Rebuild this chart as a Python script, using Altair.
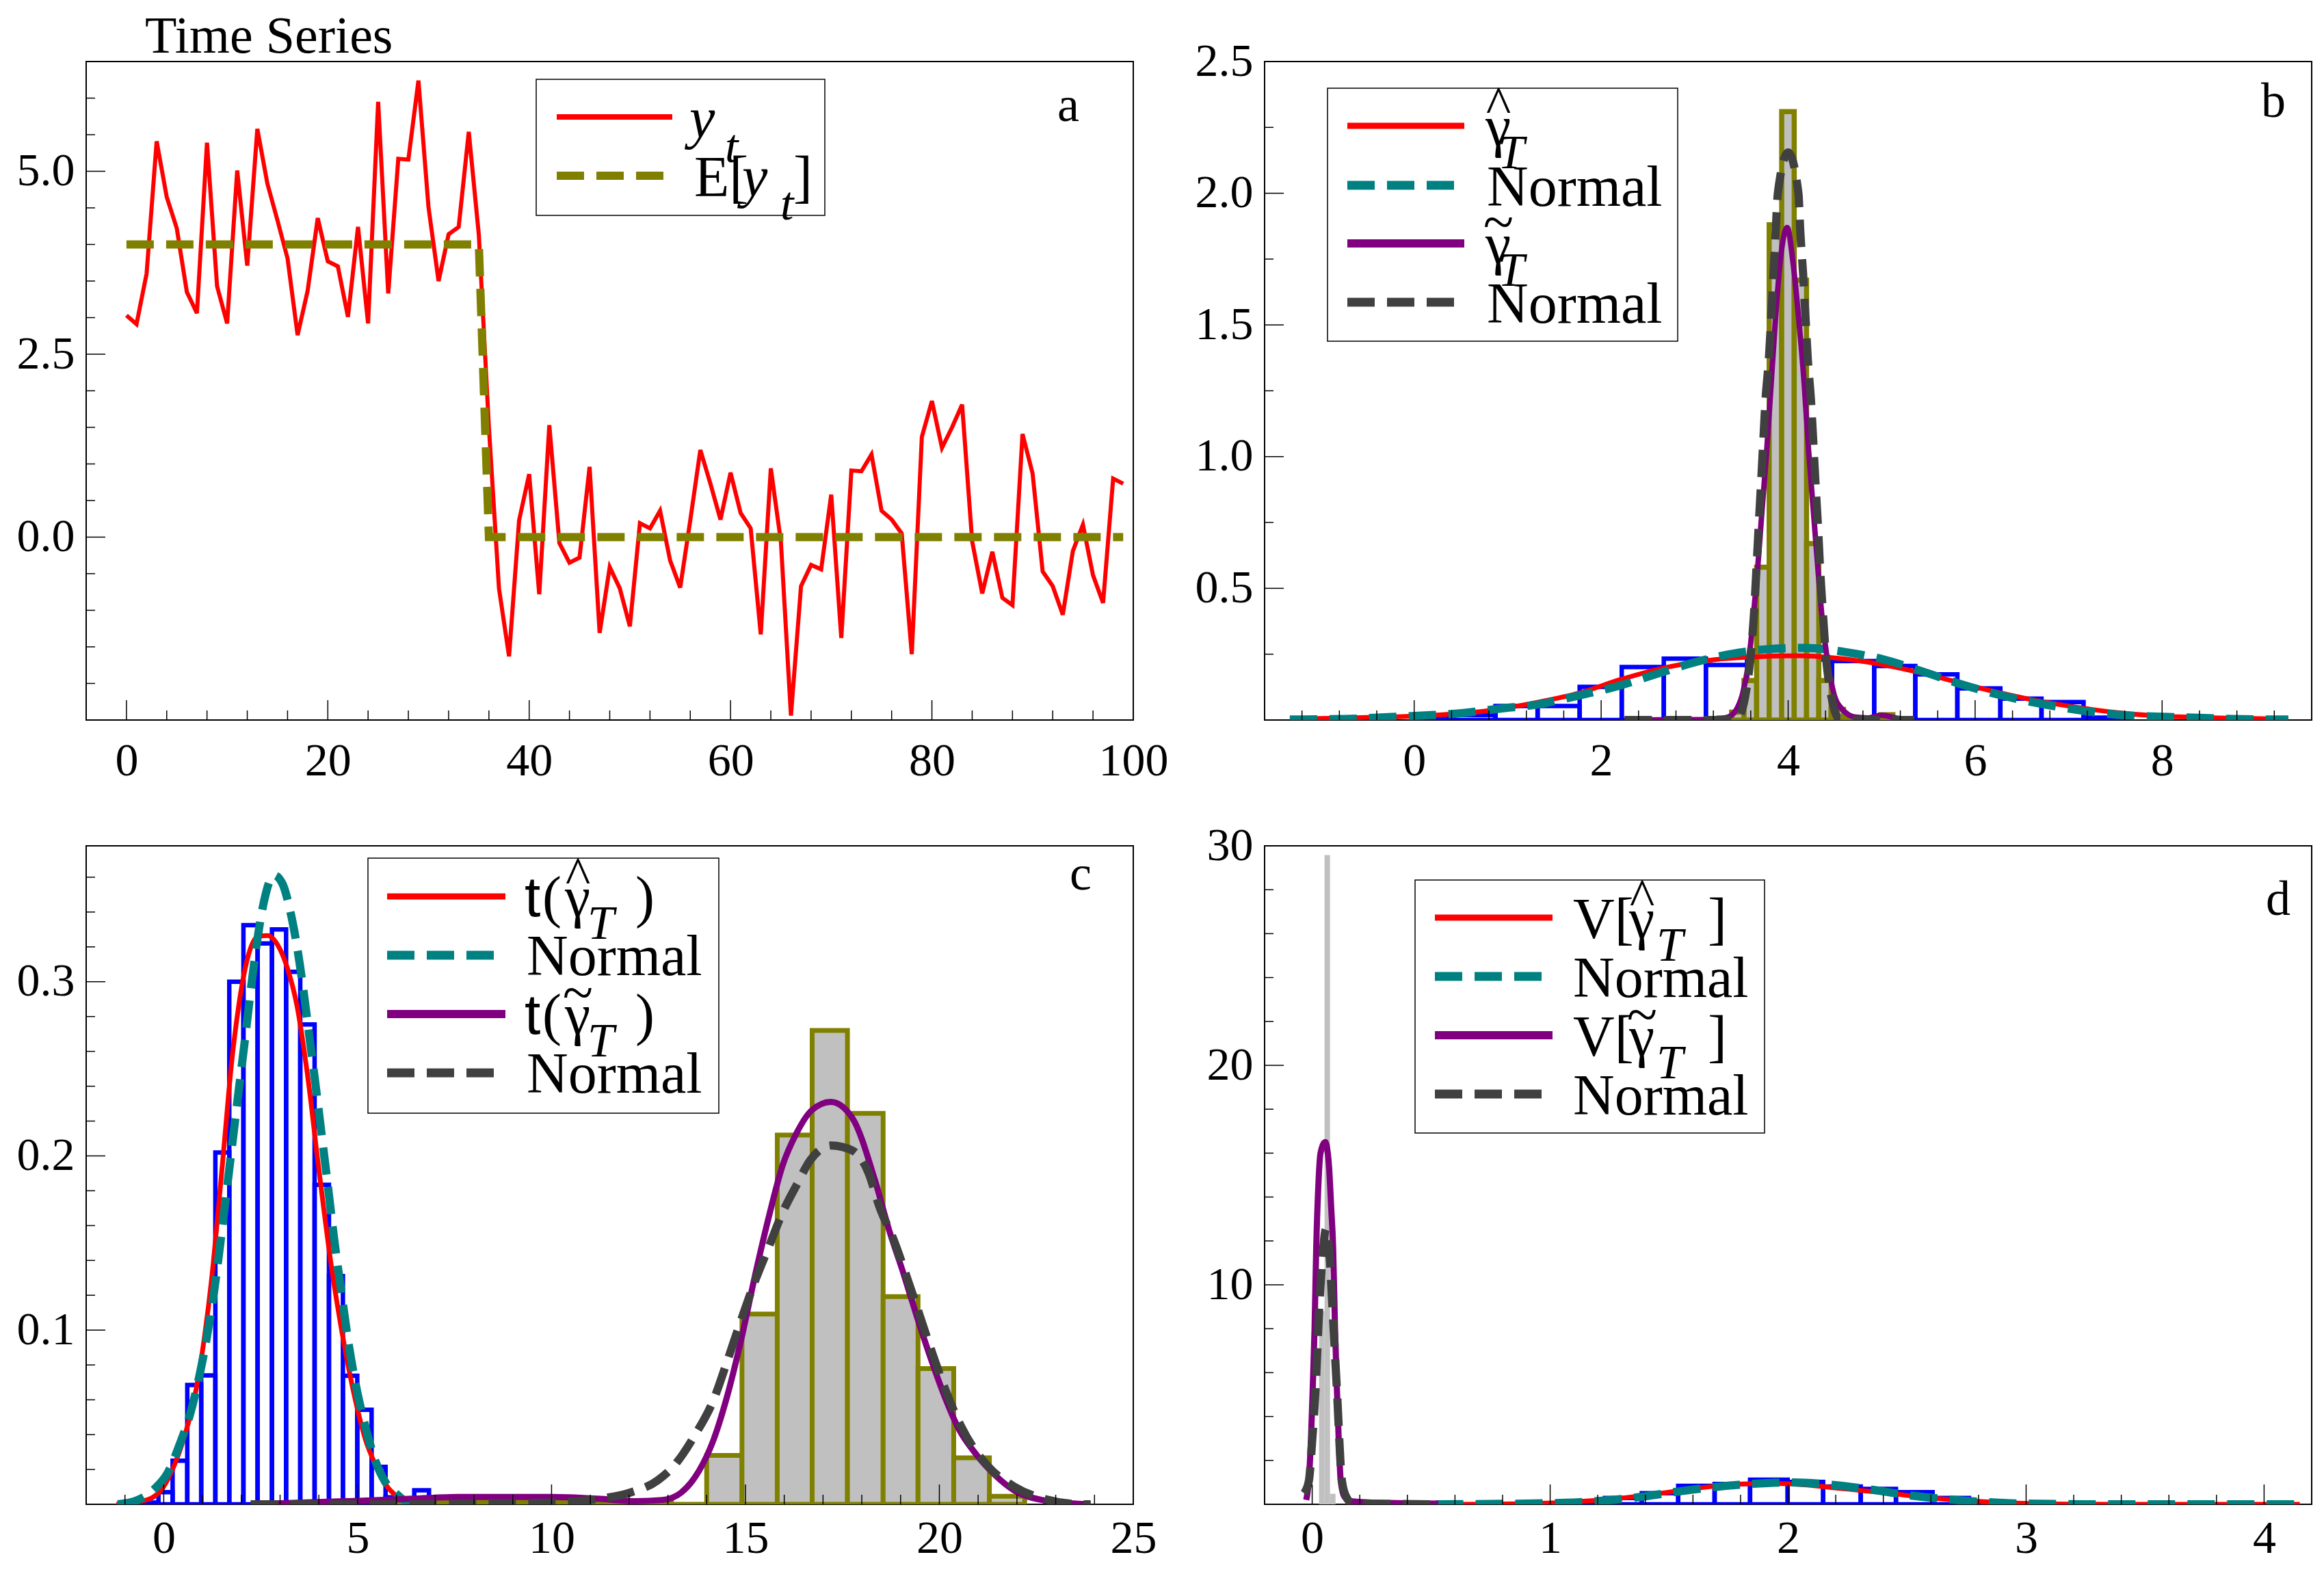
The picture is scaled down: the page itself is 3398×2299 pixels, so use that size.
import altair as alt
import pandas as pd

FONT = "Liberation Serif"
W, H = 1531, 963
TICK_FS = 68
RED, OLIVE, TEAL, PURPLE, DGREY, BLUE, SILVER = "#ff0000", "#808000", "#008080", "#800080", "#404040", "#0000ff", "#c0c0c0"
DASH = [40, 18]

# ---------------- panel a : time series ----------------
ts_t = list(range(100))
ts_y = [3.03, 2.91, 3.6, 5.41, 4.65, 4.22, 3.35, 3.06, 5.39, 3.43,
        2.92, 5.01, 3.71, 5.58, 4.83, 4.33, 3.81, 2.76, 3.37, 4.36,
        3.77, 3.70, 3.01, 4.24, 2.92, 5.95, 3.33, 5.17, 5.16, 6.24,
        4.51, 3.50, 4.14, 4.24, 5.54, 4.13, 1.5, -0.70, -1.63, 0.23,
        0.86, -0.78, 1.53, -0.08, -0.35, -0.28, 0.96, -1.31, -0.41, -0.70,
        -1.22, 0.19, 0.12, 0.36, -0.32, -0.69, 0.23, 1.19, 0.73, 0.24,
        0.88, 0.33, 0.12, -1.33, 0.94, -0.06, -2.44, -0.67, -0.38, -0.44,
        0.58, -1.38, 0.91, 0.90, 1.13, 0.36, 0.24, 0.05, -1.60, 1.37,
        1.86, 1.22, 1.50, 1.81, -0.06, -0.77, -0.20, -0.83, -0.93, 1.41,
        0.87, -0.47, -0.67, -1.06, -0.19, 0.17, -0.52, -0.90, 0.80, 0.73]
ey_t = [0, 35, 36, 99]
ey_v = [4.0, 4.0, 0.0, 0.0]

# ---------------- panel b : gamma estimators ----------------
b_hat_edges = [-0.03, 0.42, 0.87, 1.32, 1.77, 2.22, 2.67, 3.12, 3.56, 4.01, 4.47, 4.92, 5.36, 5.81, 6.27, 6.71, 7.16, 7.61]
b_hat_heights = [0.005, 0.019, 0.053, 0.053, 0.126, 0.201, 0.233, 0.209, 0.225, 0.23, 0.224, 0.205, 0.173, 0.12, 0.081, 0.068, 0.009]
b_tld_edges = [3.263, 3.396, 3.528, 3.663, 3.797, 3.931, 4.065, 4.197, 4.328, 4.460, 4.592, 4.725, 4.857, 4.99, 5.12]
b_tld_heights = [0.008, 0.03, 0.15, 0.58, 1.88, 2.31, 1.67, 0.67, 0.15, 0.04, 0.01, 0.005, 0.005, 0.02]
b_red_x = [-1.33, -0.7, 0.33, 0.76, 1.27, 1.77, 2.21, 2.71, 3.14, 3.58, 4.09, 4.52, 4.95, 5.31, 5.74, 6.17, 6.61, 7.04, 7.47, 7.9, 8.5, 9.35]
b_red_y = [0.004, 0.008, 0.021, 0.034, 0.064, 0.103, 0.154, 0.201, 0.226, 0.239, 0.244, 0.235, 0.214, 0.188, 0.150, 0.111, 0.077, 0.051, 0.030, 0.017, 0.009, 0.004]
b_teal_x = [-1.33, -0.74, -0.35, 0.08, 0.51, 0.91, 1.34, 1.77, 2.17, 2.56, 2.99, 3.35, 3.78, 4.18, 4.61, 5.01, 5.44, 5.84, 6.23, 6.67, 7.1, 7.5, 7.93, 8.33, 8.76, 9.19, 9.35]
b_teal_y = [0.002, 0.004, 0.010, 0.017, 0.026, 0.043, 0.06, 0.094, 0.128, 0.171, 0.218, 0.248, 0.269, 0.274, 0.258, 0.231, 0.184, 0.137, 0.098, 0.064, 0.038, 0.021, 0.013, 0.009, 0.004, 0.002, 0.002]
b_pur_x = [2.25, 3.0, 3.21, 3.355, 3.452, 3.513, 3.574, 3.623, 3.672, 3.72, 3.77, 3.818, 3.867, 3.916, 3.99,
           4.05, 4.11, 4.172, 4.22, 4.27, 4.32, 4.367, 4.428, 4.489, 4.574, 4.72, 4.85, 5.0, 5.15, 5.35]
b_pur_y = [0.0, 0.001, 0.003, 0.011, 0.043, 0.10, 0.212, 0.374, 0.567, 0.793, 1.018, 1.275, 1.534, 1.743, 1.87,
           1.743, 1.534, 1.275, 1.018, 0.793, 0.567, 0.374, 0.212, 0.10, 0.043, 0.011, 0.008, 0.018, 0.008, 0.0]
b_gry_x = [2.25, 3.3, 3.45, 3.538, 3.599, 3.635, 3.66, 3.684, 3.709, 3.733, 3.757, 3.794, 3.82, 3.843, 3.867, 3.89, 4.0,
           4.11, 4.13, 4.16, 4.185, 4.21, 4.245, 4.27, 4.294, 4.32, 4.343, 4.372, 4.404, 4.465, 4.55, 4.7, 5.35]
b_gry_y = [0.0, 0.0, 0.004, 0.085, 0.245, 0.405, 0.567, 0.73, 0.89, 1.05, 1.21, 1.372, 1.534, 1.694, 1.855, 2.0, 2.155,
           2.0, 1.855, 1.694, 1.534, 1.372, 1.21, 1.05, 0.89, 0.73, 0.567, 0.405, 0.245, 0.085, 0.004, 0.0, 0.0]

# ---------------- panel c : t statistics ----------------
c_hat_edges = [-0.5, -0.136, 0.229, 0.607, 0.966, 1.331, 1.69, 2.055, 2.42, 2.79, 3.155, 3.52, 3.89, 4.26, 4.62, 4.99, 5.36, 5.72, 6.09, 6.46, 6.84]
c_hat_heights = [0.001, 0.007, 0.025, 0.0685, 0.074, 0.202, 0.300, 0.3325, 0.322, 0.330, 0.3057, 0.2755, 0.1834, 0.131, 0.0738, 0.0543, 0.0215, 0.004, 0.002, 0.008]
c_tld_edges = [5.81, 6.72, 7.63, 8.54, 9.45, 10.36, 11.27, 12.18, 13.09, 14.0, 14.91, 15.82, 16.72, 17.63, 18.55, 19.45, 20.37, 21.29, 22.2]
c_tld_heights = [0.001, 0.0015, 0.0015, 0.0015, 0.0015, 0.0015, 0.0015, 0.001, 0.0, 0.0281, 0.1092, 0.212, 0.272, 0.2244, 0.1192, 0.0779, 0.0267, 0.0046]
c_red_x = [-1.22, -0.525, -0.086, 0.23, 0.544, 0.796, 1.048, 1.237, 1.426, 1.583, 1.741, 1.93, 2.15, 2.43, 2.685, 2.94, 3.19,
           3.44, 3.63, 3.79, 3.94, 4.13, 4.32, 4.51, 4.70, 4.95, 5.2, 5.46, 5.71, 5.96, 6.34, 7.0]
c_red_y = [0.0, 0.002, 0.0076, 0.0202, 0.0397, 0.0616, 0.0957, 0.1298, 0.1737, 0.2127, 0.2516, 0.2857, 0.3125, 0.326, 0.3265, 0.321, 0.3077,
           0.2857, 0.259, 0.232, 0.203, 0.169, 0.137, 0.110, 0.086, 0.059, 0.0373, 0.0226, 0.0117, 0.0055, 0.002, 0.001]
c_teal_x = [-1.19, -0.72, -0.21, 0.1, 0.42, 0.67, 0.92, 1.11, 1.30, 1.456, 1.615, 1.772, 1.93, 2.09, 2.245, 2.40, 2.59, 2.84,
            3.06, 3.25, 3.44, 3.6, 3.755, 3.91, 4.07, 4.23, 4.385, 4.575, 4.76, 4.95, 5.2, 5.455, 5.71, 6.02, 6.34, 7.0]
c_teal_y = [0.0, 0.002, 0.0094, 0.018, 0.035, 0.051, 0.0738, 0.0957, 0.1225, 0.1493, 0.1785, 0.2077, 0.237, 0.266, 0.2954, 0.322, 0.3466, 0.3612,
            0.3563, 0.3417, 0.3197, 0.2954, 0.2686, 0.2417, 0.2125, 0.1833, 0.154, 0.1225, 0.0932, 0.0689, 0.0446, 0.025, 0.0129, 0.0056, 0.0007, 0.0]
c_pur_x = [2.9, 5.0, 6.42, 7.61, 10.0, 11.19, 12.14, 12.86, 13.34, 13.81, 14.17, 14.53, 14.88, 15.24, 15.6, 15.96, 16.32, 16.7, 17.2,
           17.75, 18.34, 18.70, 19.06, 19.42, 19.78, 20.13, 20.49, 20.97, 21.44, 21.92, 22.64, 23.59, 23.9]
c_pur_y = [0.0005, 0.002, 0.0032, 0.0042, 0.0042, 0.0032, 0.0018, 0.0025, 0.0067, 0.0195, 0.0366, 0.0622, 0.0936, 0.1306, 0.1648, 0.1947, 0.2132, 0.226, 0.231,
           0.222, 0.186, 0.1577, 0.1335, 0.1078, 0.0836, 0.0622, 0.0437, 0.0281, 0.0167, 0.0081, 0.0025, 0.0003, 0.0]
c_gry_x = [2.24, 6.0, 7.61, 10.0, 11.19, 12.02, 12.74, 13.22, 13.69, 14.17, 14.53, 14.88, 15.24, 15.6, 15.96, 16.32, 16.67, 17.21,
           17.75, 18.17, 18.46, 18.82, 19.18, 19.48, 19.80, 20.13, 20.55, 21.23, 21.92, 22.7, 23.71, 23.9]
c_gry_y = [0.0, 0.0, 0.0003, 0.001, 0.0031, 0.0067, 0.0138, 0.0238, 0.0395, 0.0596, 0.0822, 0.1052, 0.1278, 0.1477, 0.1676, 0.1833, 0.1975, 0.206,
           0.2032, 0.1904, 0.1705, 0.1519, 0.1292, 0.1093, 0.0879, 0.0672, 0.0452, 0.0224, 0.0103, 0.0031, 0.0, 0.0]

# ---------------- panel d : variances ----------------
d_hat_edges = [1.08, 1.23, 1.385, 1.538, 1.691, 1.84, 1.998, 2.147, 2.305, 2.453, 2.607, 2.76, 2.91]
d_hat_heights = [0.05, 0.29, 0.51, 0.84, 0.93, 1.12, 1.02, 0.81, 0.70, 0.55, 0.29, 0.05]
d_tld_edges = [0.029, 0.052, 0.075, 0.098]
d_tld_heights = [8.8, 29.58, 0.48]
d_red_x = [0.52, 0.878, 1.114, 1.28, 1.44, 1.61, 1.77, 1.94, 2.08, 2.22, 2.39, 2.58, 2.76, 2.98, 3.35, 4.15]
d_red_y = [0.0, 0.02, 0.124, 0.26, 0.465, 0.72, 0.91, 0.95, 0.88, 0.72, 0.55, 0.31, 0.155, 0.05, 0.0, 0.0]
d_teal_x = [0.52, 0.995, 1.21, 1.36, 1.53, 1.68, 1.845, 2.02, 2.19, 2.35, 2.51, 2.67, 2.835, 3.0, 3.35, 4.15]
d_teal_y = [0.0, 0.05, 0.155, 0.31, 0.57, 0.776, 0.93, 1.0, 0.88, 0.67, 0.41, 0.23, 0.10, 0.03, 0.0, 0.0]
d_pur_x = [-0.025, -0.015, -0.005, 0.002, 0.01, 0.017, 0.025, 0.035, 0.055, 0.07, 0.08, 0.088, 0.096, 0.104, 0.112, 0.12, 0.135, 0.16, 0.25, 0.4, 0.53]
d_pur_y = [0.2, 1.0, 3.0, 5.2, 8.0, 11.7, 14.3, 16.0, 16.5, 15.5, 13.5, 11.7, 8.0, 5.2, 2.8, 1.06, 0.35, 0.15, 0.08, 0.05, 0.03]
d_gry_x = [-0.034, -0.014, 0.0, 0.014, 0.029, 0.045, 0.058, 0.072, 0.086, 0.104, 0.125, 0.145, 0.17, 0.53]
d_gry_y = [0.5, 1.06, 2.9, 5.2, 8.8, 11.5, 12.54, 11.5, 8.8, 5.2, 1.06, 0.3, 0.05, 0.0]

# ---------------- ticks and tick labels ----------------
a_xlab = [0, 20, 40, 60, 80, 100]
a_ylab = [0.0, 2.5, 5.0]
a_xmin = [4, 8, 12, 16, 24, 28, 32, 36, 44, 48, 52, 56, 64, 68, 72, 76, 84, 88, 92, 96]
a_ymin = [-2.0, -1.5, -1.0, -0.5, 0.5, 1.0, 1.5, 2.0, 3.0, 3.5, 4.0, 4.5, 5.5, 6.0]
b_xlab = [0, 2, 4, 6, 8]
b_ylab = [0.5, 1.0, 1.5, 2.0, 2.5]
b_xmin = [-1.2, -0.8, -0.4, 0.4, 0.8, 1.2, 1.6, 2.4, 2.8, 3.2, 3.6, 4.4, 4.8, 5.2, 5.6, 6.4, 6.8, 7.2, 7.6, 8.4, 8.8, 9.2]
b_ymin = [0.25, 0.75, 1.25, 1.75, 2.25]
c_xlab = [0, 5, 10, 15, 20, 25]
c_ylab = [0.1, 0.2, 0.3]
c_xmin = [-1, 1, 2, 3, 4, 6, 7, 8, 9, 11, 12, 13, 14, 16, 17, 18, 19, 21, 22, 23, 24]
c_ymin = [0.02, 0.04, 0.06, 0.08, 0.12, 0.14, 0.16, 0.18, 0.22, 0.24, 0.26, 0.28, 0.32, 0.34, 0.36]
d_xlab = [0, 1, 2, 3, 4]
d_ylab = [10, 20, 30]
d_xmin = [0.2, 0.4, 0.6, 0.8, 1.2, 1.4, 1.6, 1.8, 2.2, 2.4, 2.6, 2.8, 3.2, 3.4, 3.6, 3.8]
d_ymin = [2, 4, 6, 8, 12, 14, 16, 18, 22, 24, 26, 28]


# ---------------- helpers ----------------
class P:
    def __init__(self, xdom, ydom, xlab, ylab, yfmt, xpad):
        self.sx = alt.Scale(domain=xdom, nice=False, zero=False)
        self.sy = alt.Scale(domain=ydom, nice=False, zero=False)
        common = dict(ticks=False, tickSize=0, domain=False, grid=False, labelFont=FONT,
                      labelFontSize=TICK_FS, labelColor="black", labelFlush=False, labelOverlap=False)
        self.ax = alt.Axis(values=xlab, format="d", labelPadding=xpad, labelBaseline="top", **common)
        self.ay = alt.Axis(values=ylab, format=yfmt, labelPadding=17, labelAlign="right",
                           labelBaseline="middle", **common)

    def X(self, f):
        return alt.X(f"{f}:Q", scale=self.sx, axis=self.ax, title=None)

    def Y(self, f):
        return alt.Y(f"{f}:Q", scale=self.sy, axis=self.ay, title=None)


def line(p, xs, ys, color, width, dash=None, interp="monotone"):
    df = pd.DataFrame({"x": xs, "y": ys})
    kw = dict(color=color, strokeWidth=width, interpolate=interp, clip=True)
    if dash:
        kw["strokeDash"] = dash
    return alt.Chart(df).mark_line(**kw).encode(x=p.X("x"), y=p.Y("y"))


def hist(p, edges, heights, fill, fill_op, stroke=None, sw=0):
    df = pd.DataFrame({"x0": edges[:-1], "x1": edges[1:], "h": heights})
    kw = dict(fill=fill, fillOpacity=fill_op, clip=True)
    if stroke:
        kw.update(stroke=stroke, strokeWidth=sw)
    else:
        kw.update(strokeWidth=0)
    return alt.Chart(df).mark_rect(**kw).encode(x=p.X("x0"), x2="x1", y=p.Y("h"), y2=alt.datum(0))


def ticks(p, xmaj, xmin, ymaj, ymin):
    out = []
    for vals, ln in ((xmaj, 29), (xmin, 14)):
        out.append(alt.Chart(pd.DataFrame({"v": vals})).mark_rule(color="black", strokeWidth=1.5)
                   .encode(x=p.X("v"), y=alt.value(H), y2=alt.value(H - ln)))
    for vals, ln in ((ymaj, 28), (ymin, 13)):
        out.append(alt.Chart(pd.DataFrame({"v": vals})).mark_rule(color="black", strokeWidth=1.5)
                   .encode(y=p.Y("v"), x=alt.value(0), x2=alt.value(ln)))
    return out


def txt(s, x, y, size=84, italic=False, align="left", font=FONT):
    kw = dict(text=s, font=font, fontSize=size, align=align, baseline="alphabetic", color="black")
    if italic:
        kw["fontStyle"] = "italic"
    return alt.Chart().mark_text(**kw).encode(x=alt.value(x), y=alt.value(y))


def seg(x1, x2, y, color, width, dash=None):
    kw = dict(color=color, strokeWidth=width)
    if dash:
        kw["strokeDash"] = dash
    return alt.Chart().mark_rule(**kw).encode(x=alt.value(x1), x2=alt.value(x2), y=alt.value(y))


def box(x1, y1, x2, y2):
    return alt.Chart().mark_rect(fill="white", stroke="black", strokeWidth=1.5).encode(
        x=alt.value(x1), x2=alt.value(x2), y=alt.value(y1), y2=alt.value(y2))


def gamma(x, base, accent, sub_dx):
    if accent == "hat":
        acc = txt("^", x + 19, base - 33, size=78, align="center")
    else:
        acc = txt("~", x + 19, base - 33, size=82, align="center")
    return [txt("γ", x, base), acc, txt("T", x + sub_dx, base + 33, size=70, italic=True)]


# ---------------- panel a ----------------
pa = P([-4, 100], [-2.5, 6.5], a_xlab, a_ylab, ".1f", 26)
layers_a = [
    line(pa, ts_t, ts_y, RED, 6, interp="linear"),
    line(pa, ey_t, ey_v, OLIVE, 12, dash=DASH, interp="linear"),
] + ticks(pa, a_xlab, a_xmin, a_ylab, a_ymin) + [
    box(658, 26, 1080, 225),
    seg(688, 857, 81, RED, 8),
    txt("y", 882, 111, italic=True),
    txt("t", 934, 147, size=70, italic=True),
    seg(688, 857, 167, OLIVE, 12, DASH),
    txt("E[", 889, 197),
    txt("y", 959, 197, italic=True),
    txt("t", 1015, 231, size=70, italic=True),
    txt("]", 1034, 197),
    txt("a", 1452, 87, size=72, align="right"),
    txt("Time Series", 86, -13, size=76),
]
chart_a = alt.layer(*layers_a).properties(width=W, height=H)

# ---------------- panel b ----------------
pb = P([-1.6, 9.6], [0, 2.5], b_xlab, b_ylab, ".1f", 26)
layers_b = [
    hist(pb, b_hat_edges, b_hat_heights, "white", 0, BLUE, 6.5),
    hist(pb, b_tld_edges, b_tld_heights, SILVER, 1, OLIVE, 7.5),
    line(pb, b_red_x, b_red_y, RED, 7),
    line(pb, b_teal_x, b_teal_y, TEAL, 12, dash=DASH),
    line(pb, b_pur_x, b_pur_y, PURPLE, 8),
    line(pb, b_gry_x, b_gry_y, DGREY, 12, dash=DASH),
] + ticks(pb, b_xlab, b_xmin, [0.5, 1.0, 1.5, 2.0], b_ymin) + [
    box(92, 39, 604, 409),
    seg(121, 292, 94, RED, 9),
    seg(121, 292, 181, TEAL, 13, DASH),
    txt("Normal", 325, 211),
    seg(121, 292, 266, PURPLE, 12),
    seg(121, 292, 352, DGREY, 13, DASH),
    txt("Normal", 325, 382),
    txt("b", 1493, 81, size=72, align="right"),
] + gamma(323, 123, "hat", 18) + gamma(323, 295, "tilde", 18)
chart_b = alt.layer(*layers_b).properties(width=W, height=H)

# ---------------- panel c ----------------
pc = P([-2, 25], [0, 0.378], c_xlab, c_ylab, ".1f", 16)
layers_c = [
    hist(pc, c_hat_edges, c_hat_heights, "white", 0, BLUE, 6.5),
    hist(pc, c_tld_edges, c_tld_heights, SILVER, 1, OLIVE, 7),
    line(pc, c_red_x, c_red_y, RED, 7),
    line(pc, c_teal_x, c_teal_y, TEAL, 12, dash=DASH),
    line(pc, c_pur_x, c_pur_y, PURPLE, 9),
    line(pc, c_gry_x, c_gry_y, DGREY, 12, dash=DASH),
] + ticks(pc, c_xlab, c_xmin, c_ylab, c_ymin) + [
    box(412, 18, 925, 391),
    seg(440, 613, 74, RED, 9),
    txt("t", 641, 103, font="Liberation Sans"), txt("(", 667, 103), txt(")", 803, 103),
    seg(440, 613, 160, TEAL, 13, DASH),
    txt("Normal", 644, 189),
    seg(440, 613, 246, PURPLE, 12),
    txt("t", 641, 275, font="Liberation Sans"), txt("(", 667, 275), txt(")", 803, 275),
    seg(440, 613, 332, DGREY, 13, DASH),
    txt("Normal", 644, 361),
    txt("c", 1470, 64, size=72, align="right"),
] + gamma(700, 103, "hat", 33) + gamma(700, 275, "tilde", 33)
chart_c = alt.layer(*layers_c).properties(width=W, height=H)

# ---------------- panel d ----------------
pd_ = P([-0.2, 4.2], [0, 30], d_xlab, d_ylab, "d", 16)
layers_d = [
    hist(pd_, d_hat_edges, d_hat_heights, "white", 0, BLUE, 6.5),
    hist(pd_, d_tld_edges, d_tld_heights, SILVER, 1),
    line(pd_, d_red_x, d_red_y, RED, 7),
    line(pd_, d_teal_x, d_teal_y, TEAL, 12, dash=DASH),
    line(pd_, d_pur_x, d_pur_y, PURPLE, 9),
    line(pd_, d_gry_x, d_gry_y, DGREY, 12, dash=DASH),
] + ticks(pd_, d_xlab, d_xmin, [10, 20], d_ymin) + [
    box(220, 50, 731, 420),
    seg(249, 421, 105, RED, 9),
    txt("V[", 451, 135), txt("]", 648, 135),
    seg(249, 421, 191, TEAL, 13, DASH),
    txt("Normal", 451, 221),
    seg(249, 421, 277, PURPLE, 12),
    txt("V[", 451, 307), txt("]", 648, 307),
    seg(249, 421, 363, DGREY, 13, DASH),
    txt("Normal", 451, 393),
    txt("d", 1500, 101, size=72, align="right"),
] + gamma(533, 135, "hat", 40) + gamma(533, 307, "tilde", 40)
chart_d = alt.layer(*layers_d).properties(width=W, height=H)

chart = alt.concat(
    chart_a, chart_b, chart_c, chart_d,
    columns=2, spacing={"row": 184, "column": 192}, bounds="flush",
).properties(
    padding={"left": 15, "top": 7, "right": 0, "bottom": 0},
    background="white",
).configure(
    font=FONT
).configure_view(
    stroke="black", strokeWidth=2, fill="white"
)

chart.save("out.html", embed_options={"renderer": "svg", "actions": False})
